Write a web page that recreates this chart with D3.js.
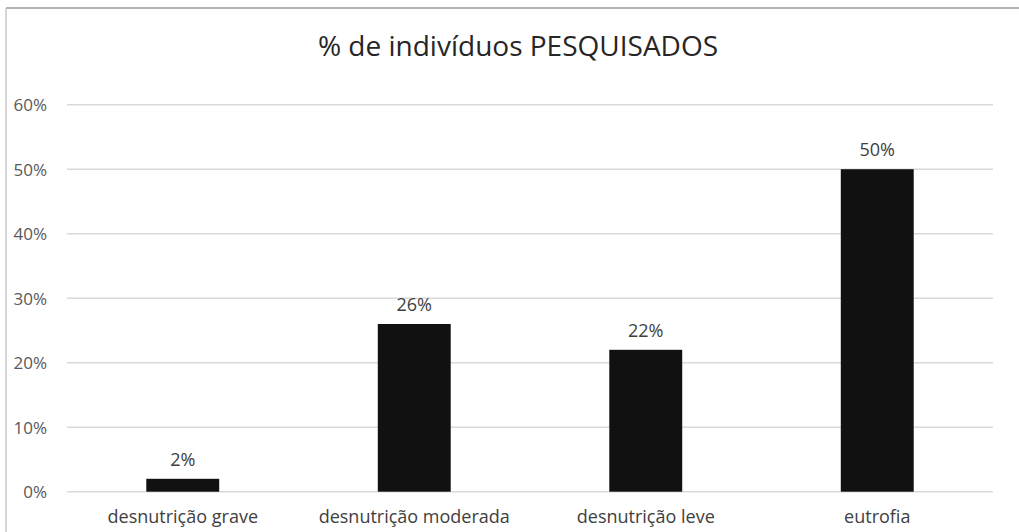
<!DOCTYPE html>
<html>
<head>
<meta charset="utf-8">
<script src="https://cdnjs.cloudflare.com/ajax/libs/d3/7.8.5/d3.min.js"></script>
<style>
  body { margin: 0; background: #fff; }
  svg { display: block; font-family: "Open Sans", "Noto Sans", sans-serif; }
</style>
</head>
<body>
<div id="chart"></div>
<script>
// data
var categories = ["desnutrição grave", "desnutrição moderada", "desnutrição leve", "eutrofia"];
var values = [2, 26, 22, 50];
var yTicks = [0, 10, 20, 30, 40, 50, 60];
var title = "% de indivíduos PESQUISADOS";

var width = 1019, height = 532;
var plotLeft = 67, plotRight = 993, plotTop = 104.7, plotBottom = 491.7;

var svg = d3.select("#chart").append("svg")
    .attr("width", width)
    .attr("height", height);

// frame (top and left edge visible in the source)
svg.append("line").attr("x1", 6).attr("x2", width).attr("y1", 8).attr("y2", 8)
    .attr("stroke", "#b4b4b4").attr("stroke-width", 2);
svg.append("line").attr("x1", 6).attr("x2", 6).attr("y1", 8).attr("y2", height)
    .attr("stroke", "#c8c8c8").attr("stroke-width", 1.5);

var x = d3.scaleBand()
    .domain(categories)
    .range([plotLeft, plotRight])
    .paddingInner(0.685)
    .paddingOuter(0.3425);

var y = d3.scaleLinear()
    .domain([0, 60])
    .range([plotBottom, plotTop]);

// gridlines
svg.append("g")
  .selectAll("line").data(yTicks).join("line")
    .attr("x1", plotLeft).attr("x2", plotRight)
    .attr("y1", d => y(d)).attr("y2", d => y(d))
    .attr("stroke", "#d9d9d9").attr("stroke-width", 1.5);

// y axis labels
var yAxis = d3.axisLeft(y).tickValues(yTicks).tickFormat(d => d + "%").tickSize(0).tickPadding(0);
var gy = svg.append("g").attr("transform", "translate(47,0)").call(yAxis);
gy.select(".domain").remove();
gy.selectAll("text").attr("fill", "#595959").style("font-size", "17px")
    .style("font-family", "Open Sans").attr("dy", "0.35em");

// x axis labels
var xAxis = d3.axisBottom(x).tickSize(0).tickPadding(0);
var gx = svg.append("g").attr("transform", "translate(0," + 510 + ")").call(xAxis);
gx.select(".domain").remove();
gx.selectAll("text").attr("fill", "#404040").style("font-size", "18px")
    .style("font-family", "Open Sans").attr("dy", "0.71em");

// bars
svg.append("g")
  .selectAll("rect").data(values).join("rect")
    .attr("x", (d, i) => x(categories[i]))
    .attr("width", x.bandwidth())
    .attr("y", d => y(d))
    .attr("height", d => y(0) - y(d))
    .attr("fill", "#111111");

// value labels
svg.append("g")
  .selectAll("text").data(values).join("text")
    .attr("x", (d, i) => x(categories[i]) + x.bandwidth() / 2)
    .attr("y", d => y(d) - 13)
    .attr("text-anchor", "middle")
    .attr("fill", "#404040")
    .style("font-size", "18px")
    .text(d => d + "%");

// title
svg.append("text")
    .attr("x", 518).attr("y", 56)
    .attr("text-anchor", "middle")
    .attr("fill", "#262626")
    .style("font-size", "28px")
    .text(title);
</script>
</body>
</html>
